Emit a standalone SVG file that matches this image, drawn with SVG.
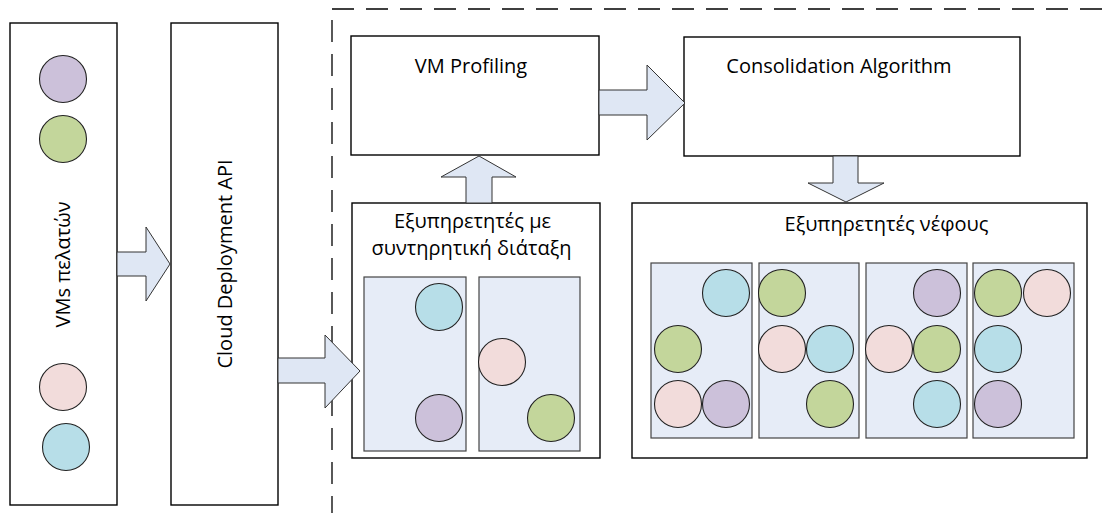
<svg xmlns="http://www.w3.org/2000/svg" width="1103" height="513" viewBox="0 0 1103 513">
<style>
.box{fill:#fff;stroke:#000;stroke-width:1.4}
.rack{fill:#E6ECF7;stroke:#444;stroke-width:1.2}
.arr{fill:#DFE7F4;stroke:#333;stroke-width:1}
.vm{stroke:#222;stroke-width:1.1}
.p{fill:#CCC1DA}.g{fill:#C3D69B}.k{fill:#F2DCDB}.b{fill:#B7DEE8}
.t{font-family:"Open Sans","Noto Sans",sans-serif;font-size:20px;fill:#000;text-anchor:middle}
.dash{fill:none;stroke:#000;stroke-width:1.3;stroke-dasharray:22 12}
</style>
<rect width="1103" height="513" fill="#fff"/>
<g id="boundary">
<path class="dash" d="M332,9 H1103"/>
<path class="dash" d="M332,20 V513"/>
</g>
<g id="vms">
<rect class="box" x="10" y="23" width="107" height="482"/>
<circle class="vm p" cx="63" cy="79" r="23.5"/>
<circle class="vm g" cx="63" cy="139" r="23.5"/>
<circle class="vm k" cx="63" cy="387" r="23.5"/>
<circle class="vm b" cx="66" cy="447" r="23.5"/>
<text class="t" transform="translate(70,264.5) rotate(-90)">VMs πελατών</text>
</g>
<g id="api">
<rect class="box" x="171" y="23" width="107" height="482"/>
<text class="t" transform="translate(232,264) rotate(-90)">Cloud Deployment API</text>
</g>
<g id="profiling">
<rect class="box" x="351" y="36" width="248" height="119"/>
<text class="t" x="471" y="73">VM Profiling</text>
</g>
<g id="consolidation">
<rect class="box" x="684" y="37" width="336" height="119"/>
<text class="t" x="839" y="73">Consolidation Algorithm</text>
</g>
<g id="sorted-servers">
<rect class="box" x="352" y="203" width="248" height="255"/>
<text class="t" x="472.5" y="228">Εξυπηρετητές με</text>
<text class="t" x="471.5" y="255">συντηρητική διάταξη</text>
<rect class="rack" x="364" y="277" width="102" height="174"/>
<rect class="rack" x="479" y="277" width="101" height="174"/>
<circle class="vm b" cx="439" cy="307" r="23.5"/>
<circle class="vm p" cx="439" cy="418" r="23.5"/>
<circle class="vm k" cx="502" cy="362" r="23.5"/>
<circle class="vm g" cx="551" cy="418" r="23.5"/>
</g>
<g id="cloud-servers">
<rect class="box" x="632" y="203" width="455" height="255"/>
<text class="t" x="886.5" y="231">Εξυπηρετητές νέφους</text>
<rect class="rack" x="651" y="263" width="101" height="175"/>
<rect class="rack" x="759" y="263" width="100" height="175"/>
<rect class="rack" x="866" y="263" width="101" height="175"/>
<rect class="rack" x="973" y="263" width="101" height="175"/>
<circle class="vm b" cx="726" cy="293" r="23.5"/>
<circle class="vm g" cx="678" cy="349" r="23.5"/>
<circle class="vm k" cx="678" cy="404" r="23.5"/>
<circle class="vm p" cx="726" cy="404" r="23.5"/>
<circle class="vm g" cx="782" cy="293" r="23.5"/>
<circle class="vm k" cx="782" cy="349" r="23.5"/>
<circle class="vm b" cx="830" cy="349" r="23.5"/>
<circle class="vm g" cx="830" cy="404" r="23.5"/>
<circle class="vm p" cx="937" cy="293" r="23.5"/>
<circle class="vm k" cx="889" cy="349" r="23.5"/>
<circle class="vm g" cx="937" cy="349" r="23.5"/>
<circle class="vm b" cx="937" cy="404" r="23.5"/>
<circle class="vm g" cx="998" cy="293" r="23.5"/>
<circle class="vm k" cx="1047" cy="293" r="23.5"/>
<circle class="vm b" cx="998" cy="349" r="23.5"/>
<circle class="vm p" cx="998" cy="404" r="23.5"/>
</g>
<g id="connectors">
<polygon class="arr" points="117,252 146,252 146,227 170,264 146,301 146,276 117,276"/>
<polygon class="arr" points="278,358 325,358 325,335 360,371 325,408 325,383 278,383"/>
<polygon class="arr" points="466,203 466,177 441,177 479,156 516,177 492,177 492,203"/>
<polygon class="arr" points="599,90 647,90 647,65 685,103 647,140 647,115 599,115"/>
<polygon class="arr" points="833,156 833,183 808,183 846,202 884,183 858,183 858,156"/>
</g>
</svg>
